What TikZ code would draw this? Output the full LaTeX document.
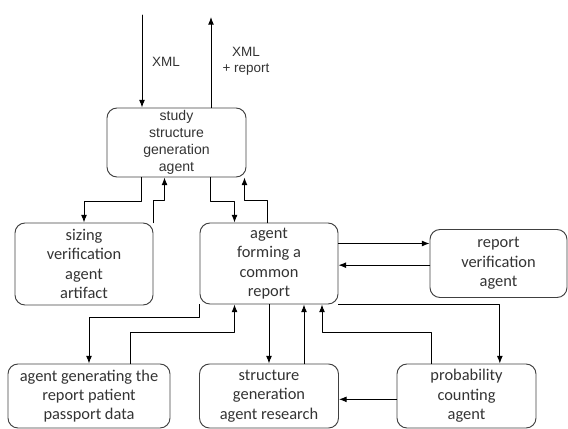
\documentclass[tikz,border=0pt]{standalone}
\usepackage{fontspec}
\setmainfont{Carlito}
\newfontfamily\arialfont{Liberation Sans}
\usetikzlibrary{positioning, arrows.meta}

\begin{document}
\begin{tikzpicture}[>={Latex[length=6.5pt, width=5pt]}, line cap=round, line join=round,
    agentbox/.style={draw=black!75, line width=0.8pt, rounded corners=0.3cm,
      align=center, inner sep=0pt, text=black!80,
      font=\fontsize{14}{16.5}\selectfont},
    link/.style={->, line width=0.8pt},
    xmllabel/.style={align=center, text=black!80,
      font=\arialfont\fontsize{11.5}{14}\selectfont}]

  \useasboundingbox (0,0) rectangle (17.04,-12.84);

  % ── top block ────────────────────────────────────────────────────────────

  \node[agentbox, minimum width=4.17cm, minimum height=2.07cm,
        font=\arialfont\fontsize{12}{14.5}\selectfont]
        (study) at (5.295, -4.275) {study\\structure\\generation\\agent};

  \coordinate (xmlin)  at (4.26, -0.45);
  \coordinate (xmlout) at (6.33, -0.51);

  \draw[link] (xmlin) -- (xmlin |- study.north);
  \draw[link] (xmlout |- study.north) -- (xmlout);

  \node[xmllabel] (inlabel)  at (4.98, -1.86) {XML};
  \node[xmllabel] (outlabel) at (7.38, -1.83) {XML\\+ report};

  % ── middle row ───────────────────────────────────────────────────────────

  \node[agentbox, minimum width=4.14cm, minimum height=2.46cm]
        (sizing) at (2.52, -7.92) {sizing\\verification\\agent\\artifact};

  \node[agentbox, minimum width=4.14cm, minimum height=2.43cm]
        (common) at (8.07, -7.905) {agent\\forming a\\common\\report};

  \node[agentbox, minimum width=4.11cm, minimum height=2.04cm]
        (check) at (14.955, -7.905) {report\\verification\\agent};

  \draw[link] ([xshift=1.05cm]study.south west) -- ++(0, -0.72) -| (sizing.north);
  \draw[link] (sizing.north east) -- ++(0, 0.66) -| ([xshift=1.74cm]study.south west);

  \draw[link] ([xshift=3.12cm]study.south west) -- ++(0, -0.72)
    -| ([xshift=1.05cm]common.north west);
  \draw[link] ([xshift=2.04cm]common.north west) -- ++(0, 0.66)
    -| ([xshift=-0.06cm]study.south east);

  \draw[link] ([yshift=0.6cm]common.east) -- ([yshift=0.6cm]check.west);
  \draw[link] ([yshift=-0.05cm]check.west) -- ([yshift=-0.05cm]common.east);

  % ── bottom row ───────────────────────────────────────────────────────────

  \node[agentbox, minimum width=4.86cm, minimum height=1.92cm]
        (passport) at (2.67, -11.88) {agent generating the\\report patient\\passport data};

  \node[agentbox, minimum width=4.17cm, minimum height=1.92cm]
        (research) at (8.07, -11.88) {structure\\generation\\agent research};

  \node[agentbox, minimum width=4.17cm, minimum height=1.92cm]
        (chance) at (13.995, -11.88) {probability\\counting\\agent};

  \draw[link] (common.south west) -- ++(0, -0.39) -| (passport.north);
  \draw[link] ([xshift=-1.2cm]passport.north east) -- ++(0, 0.93)
    -| ([xshift=1.05cm]common.south west);

  \draw[link] (common.south) -- (research.north);
  \draw[link] ([xshift=1.05cm]research.north) -- ([xshift=1.05cm]common.south);

  \draw[link] ([xshift=-1.05cm]chance.north) -- ++(0, 0.93)
    -| ([xshift=1.59cm]common.south);
  \draw[link] (common.south east) -| ([xshift=1.0cm]chance.north);

  \draw[link] ([yshift=-0.1cm]chance.west) -- ([yshift=-0.1cm]research.east);

\end{tikzpicture}
\end{document}
